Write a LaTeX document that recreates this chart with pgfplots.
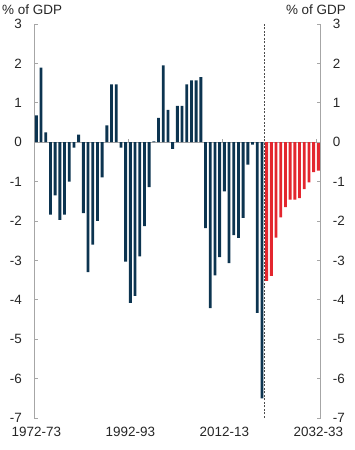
\documentclass[border=0pt]{standalone}
\usepackage{pgfplots}
\pgfplotsset{compat=1.18}
\usepackage{fontspec}
\setmainfont{Liberation Sans}
\definecolor{navy}{HTML}{0C3450}
\definecolor{projred}{HTML}{E3262E}
\definecolor{axgray}{HTML}{A6A6A6}
\newcommand{\lbl}{\fontsize{13.5}{16}\selectfont}
\begin{document}
\begin{tikzpicture}
\pgfplotsset{
  base/.style={
    at={(34bp,32bp)}, anchor=south west, scale only axis,
    width=286.7bp, height=394bp,
    xmin=-0.5, xmax=60.5, ymin=-7, ymax=3,
    ytick={-7,-6,...,3},
    /pgf/number format/assume math mode=true,
    tick label style={font=\lbl, text=black!85},
    y axis line style={draw=axgray, line width=0.9pt},
    ytick style={draw=axgray, line width=0.6pt},
    tick align=inside, major tick length=4bp,
    yticklabel style={inner sep=0pt},
    yticklabel shift=12bp,
  }
}
\begin{axis}[base,
  axis y line*=left,
  axis x line*=bottom,
  x axis line style={draw=none},
  xtick={0,20,40,60},
  xticklabels={1972-73,1992-93,2012-13,2032-33},
  xtick style={draw=none},
  xticklabel style={inner sep=0pt},
  xticklabel shift=9bp,
]
\draw[axgray, line width=0.7pt] (axis cs:-0.5,0) -- (axis cs:60.5,0);
\draw[axgray, line width=0.6pt] (axis cs:19.5,0) -- (axis cs:19.5,0.08);
\draw[axgray, line width=0.6pt] (axis cs:39.5,0) -- (axis cs:39.5,0.08);
\draw[axgray, line width=0.6pt] (axis cs:59.5,0) -- (axis cs:59.5,0.08);
\addplot[ybar, bar width=0.6, bar shift=0pt, fill=navy, draw=none] coordinates {
(0,0.68) (1,1.89) (2,0.25) (3,-1.84) (4,-1.35) (5,-1.97) (6,-1.84) (7,-1.0)
(8,-0.14) (9,0.19) (10,-1.8) (11,-3.3) (12,-2.6) (13,-2.0) (14,-0.89) (15,0.43)
(16,1.47) (17,1.47) (18,-0.14) (19,-3.03) (20,-4.08) (21,-3.9) (22,-2.9) (23,-2.13)
(24,-1.14) (25,0.02) (26,0.62) (27,1.95) (28,0.82) (29,-0.17) (30,0.92) (31,0.92)
(32,1.47) (33,1.57) (34,1.57) (35,1.65) (36,-2.18) (37,-4.21) (38,-3.38) (39,-2.92)
(40,-1.25) (41,-3.07) (42,-2.36) (43,-2.43) (44,-1.92) (45,-0.57) (46,-0.06) (47,-4.33)
(48,-6.5)
};
\addplot[ybar, bar width=0.6, bar shift=0pt, fill=projred, draw=none] coordinates {
(49,-3.52) (50,-3.39) (51,-2.42) (52,-1.91) (53,-1.65) (54,-1.46) (55,-1.46)
(56,-1.42) (57,-1.19) (58,-1.02) (59,-0.76) (60,-0.72)
};
\draw[black!70, line width=0.5pt, dash pattern=on 2bp off 1.5bp] (axis cs:48.5,-7) -- (axis cs:48.5,3);
\end{axis}
\begin{axis}[base,
  axis y line*=right,
  axis x line=none,
]
\end{axis}
\node[anchor=base west, inner sep=0pt, font=\lbl, text=black!85] at (2bp,435.5bp) {\% of GDP};
\node[anchor=base east, inner sep=0pt, font=\lbl, text=black!85] at (346bp,435.5bp) {\% of GDP};
\pgfresetboundingbox
\useasboundingbox (0,0) rectangle (355bp,450bp);
\end{tikzpicture}
\end{document}
